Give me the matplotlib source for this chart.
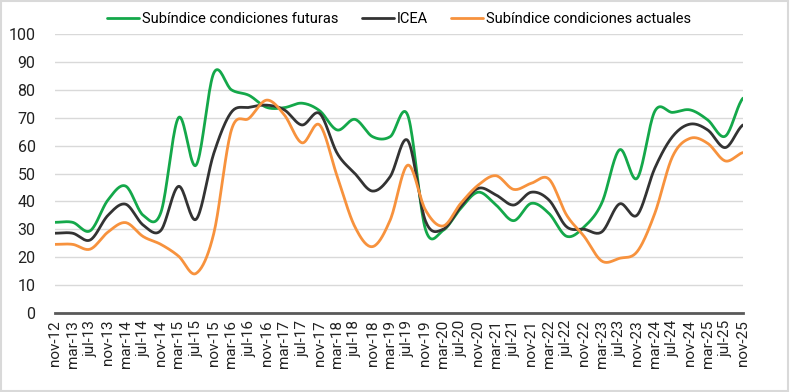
import matplotlib
matplotlib.use('Agg')
import matplotlib.pyplot as plt
import numpy as np

# every 4 months, nov-12 .. nov-25
labels = []
for yy in range(12, 26):
    for mm in ['mar', 'jul', 'nov']:
        if yy == 12 and mm != 'nov':
            continue
        labels.append(f'{mm}-{yy:02d}')

futuras = [32.5, 32.5, 29.5, 40.5, 45.5, 35, 36, 70, 53, 86,
           80, 78, 73.7, 73.6, 75.2, 72.5, 65.6, 69.4, 63.2, 63.2,
           70.8, 30, 29.6, 37.5, 43.3, 38.7, 33.1, 39.3, 35.7, 27.5,
           30.9, 39.5, 58.5, 48.3, 72.3, 71.9, 72.8, 69.2, 63.4, 77]
icea = [28.6, 28.6, 26.2, 35, 39, 31.5, 29.6, 45.4, 33.6, 57.2,
        72, 73.7, 74.5, 72.8, 67.4, 71.5, 57.2, 50, 43.7, 48.9,
        61.8, 33, 30, 38.1, 44.7, 42.3, 38.7, 43.3, 40.5, 30.9,
        30, 29.1, 39.1, 35.1, 51.9, 63.2, 67.7, 65.6, 59.3, 67.4]
actuales = [24.6, 24.6, 22.9, 29, 32.4, 27.4, 24.6, 20.4, 14.2, 28.5,
            65.6, 69.8, 76.3, 71, 61, 67.4, 48.9, 30.9, 23.8, 33.3,
            53, 36.9, 31.2, 39.3, 45.9, 49.2, 44.3, 46.5, 48, 35.1,
            27.4, 18.6, 19.6, 22, 35.7, 56, 62.6, 60.8, 54.5, 57.5]


def smooth(y, n=20):
    # catmull-rom style smoothing like the spreadsheet "smoothed line"
    y = np.asarray(y, float)
    x = np.arange(len(y), dtype=float)
    xs, ys = [], []
    for i in range(len(y) - 1):
        p0 = y[i - 1] if i > 0 else y[i]
        p3 = y[i + 2] if i + 2 < len(y) else y[i + 1]
        c1 = y[i] + (y[i + 1] - p0) / 6
        c2 = y[i + 1] - (p3 - y[i]) / 6
        t = np.linspace(0, 1, n, endpoint=False)
        b = ((1 - t) ** 3 * y[i] + 3 * (1 - t) ** 2 * t * c1
             + 3 * (1 - t) * t ** 2 * c2 + t ** 3 * y[i + 1])
        xs.append(x[i] + t)
        ys.append(b)
    xs.append([x[-1]])
    ys.append([y[-1]])
    return np.concatenate(xs), np.concatenate(ys)


plt.rcParams['font.family'] = ['Roboto', 'DejaVu Sans']

fig = plt.figure(figsize=(7.9, 3.92), dpi=100)
ax = fig.add_axes([55 / 790, 1 - 313 / 392, 688 / 790, 279 / 392])

series = [('Subíndice condiciones futuras', futuras, '#14a84a'),
          ('ICEA', icea, '#333333'),
          ('Subíndice condiciones actuales', actuales, '#f7923d')]
for name, vals, col in series:
    xs, ys = smooth(vals)
    ax.plot(xs, ys, color=col, lw=2, label=name, solid_capstyle='round')

ax.set_xlim(0, len(labels) - 1)
ax.set_ylim(0, 100)
ax.set_yticks(range(0, 101, 10))
ax.set_xticks(range(len(labels)))
ax.set_xticklabels(labels, rotation=90, fontsize=11, color='#222222')
ax.tick_params(axis='y', labelsize=11.5, colors='#222222', length=0, pad=14)
ax.tick_params(axis='x', length=0, pad=5)
ax.yaxis.grid(True, color='#d9d9d9', lw=1)
ax.set_axisbelow(True)
for s in ['top', 'right', 'left']:
    ax.spines[s].set_visible(False)
ax.spines['bottom'].set_color('#595959')
ax.spines['bottom'].set_linewidth(2)

ax.legend(loc='center', bbox_to_anchor=(0.5, 1 + 15 / 279), ncol=3, frameon=False,
          fontsize=10.5, handlelength=2.2, handletextpad=0.2, columnspacing=1.6)

fig.patches.append(plt.Rectangle((0.001, 0.002), 0.997, 0.995, transform=fig.transFigure,
                                 fill=False, edgecolor='#d9d9d9', lw=1.5))

fig.savefig('out.png', dpi=100)
